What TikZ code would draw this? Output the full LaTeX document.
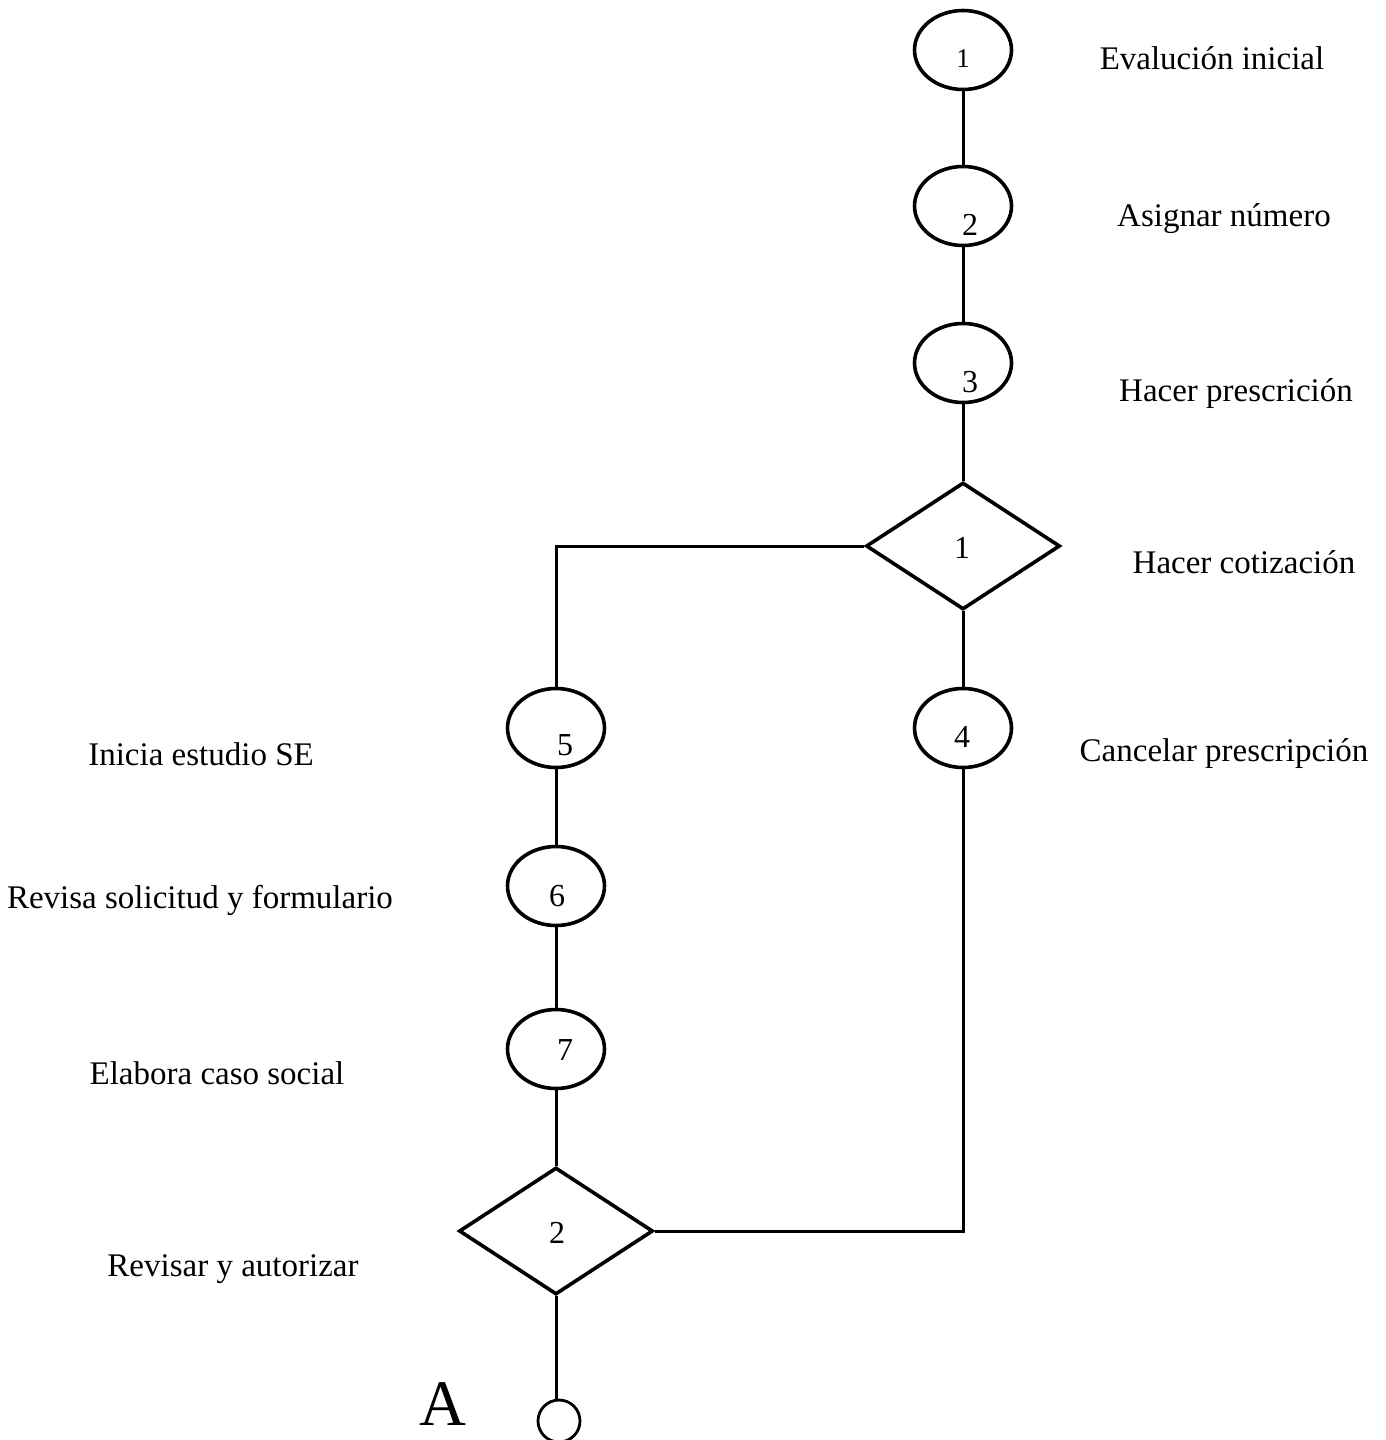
\documentclass[tikz,border=0pt]{standalone}
\usepackage{fontspec}
\setmainfont{Liberation Serif}
\usetikzlibrary{shapes.geometric}

\tikzset{
  stepoval/.style={draw, ellipse, line width=3.6pt, minimum width=97pt, minimum height=79pt, inner sep=0pt},
  checkbox/.style={draw, diamond, line width=3.6pt, minimum width=194pt, minimum height=127pt, inner sep=0pt, aspect=1.53},
  endmark/.style={draw, circle, line width=2.8pt, minimum size=42pt, inner sep=0pt},
  link/.style={line width=3pt},
  num/.style={anchor=base, inner sep=0pt, font=\fontsize{32}{36}\selectfont},
  caption/.style={anchor=base, inner sep=0pt, font=\fontsize{33}{38}\selectfont}
}

\begin{document}
\begin{tikzpicture}[x=1pt, y=-1pt]
  \useasboundingbox (0,0) rectangle (1385,1440);

  % operation ellipses
  \node[stepoval] (e1) at (963,50)   {};
  \node[stepoval] (e2) at (963,206)  {};
  \node[stepoval] (e3) at (963,363)  {};
  \node[stepoval] (e4) at (963,728)  {};
  \node[stepoval] (e5) at (556,728)  {};
  \node[stepoval] (e6) at (556,886)  {};
  \node[stepoval] (e7) at (556,1049) {};

  % inspection diamonds
  \node[checkbox] (d1) at (963,546)  {};
  \node[checkbox] (d2) at (556,1231) {};

  % off-page connector
  \node[endmark] (A) at (559,1421) {};

  % numbers inside the symbols
  \node[num] (n1) at (963,67)    {\fontsize{27}{30}\selectfont 1};
  \node[num] (n2) at (970,235)   {2};
  \node[num] (n3) at (970,392)   {3};
  \node[num] (nd1) at (962,558)  {1};
  \node[num] (n4) at (962,747)   {4};
  \node[num] (n5) at (565,755)   {5};
  \node[num] (n6) at (557,906)   {6};
  \node[num] (n7) at (565,1060)  {7};
  \node[num] (nd2) at (557,1243) {2};

  % connectors
  \draw[link] (e1.south) -- (e2.north);
  \draw[link] (e2.south) -- (e3.north);
  \draw[link] (e3.south) -- (d1.north);
  \draw[link] (d1.south) -- (e4.north);
  \draw[link] (d1.west) -| (e5.north);
  \draw[link] (e5.south) -- (e6.north);
  \draw[link] (e6.south) -- (e7.north);
  \draw[link] (e7.south) -- (d2.north);
  \draw[link] (e4.south) |- (d2.east);
  \draw[link] (d2.south) -- (d2.south |- A.north);

  % step descriptions
  \node[caption] (t1) at (1212,69)  {Evalución inicial};
  \node[caption] (t2) at (1224,226) {Asignar número};
  \node[caption] (t3) at (1236,401) {Hacer prescrición};
  \node[caption] (t4) at (1244,573) {Hacer cotización};
  \node[caption] (t5) at (1224,761) {Cancelar prescripción};
  \node[caption] (t6) at (201,765)  {Inicia estudio SE};
  \node[caption] (t7) at (200,908)  {Revisa solicitud y formulario};
  \node[caption] (t8) at (217,1084) {Elabora caso social};
  \node[caption] (t9) at (233,1276) {Revisar y autorizar};

  % connector letter
  \node[anchor=base, inner sep=0pt, font=\fontsize{65}{70}\selectfont] (la) at (443,1425) {A};
\end{tikzpicture}
\end{document}
